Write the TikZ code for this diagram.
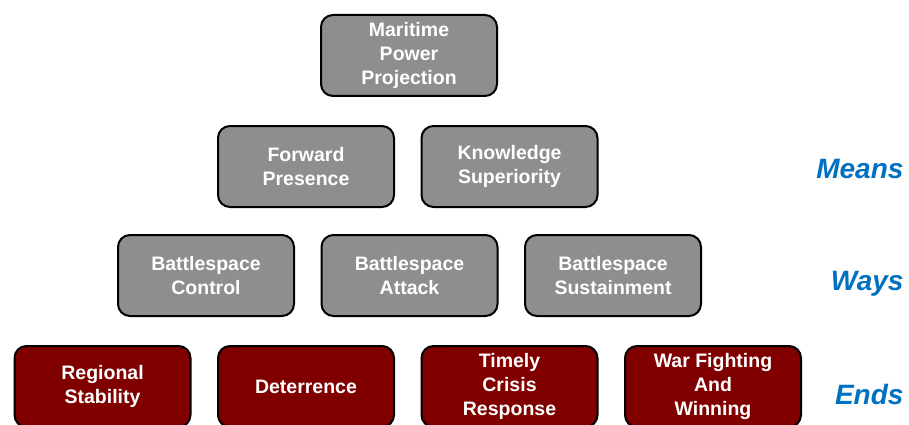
\documentclass[tikz,border=0pt]{standalone}
\usepackage{fontspec}
\setmainfont{Liberation Sans}
\usetikzlibrary{positioning}

\definecolor{boxgray}{RGB}{142,142,142}
\definecolor{endsred}{RGB}{128,0,0}
\definecolor{labelblue}{RGB}{0,112,192}

\begin{document}
\begin{tikzpicture}[x = 1pt, y = 1pt,
                node distance = 203.5pt, % centre to centre in a row
                box/.style = {draw = black, line width = 2pt, rounded corners = 12pt,
                    minimum width = 176pt, minimum height = 81pt, align = center,
                    text = white, font = \fontsize{19.5}{24}\selectfont\bfseries},
                means/.style = {box, fill = boxgray},
                ends/.style = {box, fill = endsred},
                level/.style = {anchor = east, text = labelblue,
                    font = \fontsize{28}{32}\selectfont\bfseries\itshape}
            ]

            \useasboundingbox (0,0) rectangle (909,-425);

            % top
            \node[means] (mpp) at (409,-55.5) {Maritime\\Power\\Projection};

            % means
            \node[means] (fp) at (306,-166.5) {Forward\\Presence};
            \node[means] (ks) [right of=fp] {Knowledge\\Superiority};

            % ways
            \node[means] (bc) at (206,-275.5) {Battlespace\\Control};
            \node[means] (ba) [right of=bc] {Battlespace\\Attack};
            \node[means] (bs) [right of=ba] {Battlespace\\Sustainment};

            % ends
            \node[ends] (rs) at (102.5,-386.5) {Regional\\Stability};
            \node[ends] (de) [right of=rs] {Deterrence};
            \node[ends] (tcr) [right of=de] {Timely\\Crisis\\Response};
            \node[ends] (wfw) [right of=tcr] {War Fighting\\And\\Winning};

            % level labels
            \node[level] (lmeans) at (907,-169) {Means};
            \node[level] (lways) at (907,-284) {Ways};
            \node[level] (lends) at (907,-394) {Ends};
\end{tikzpicture}
\end{document}
